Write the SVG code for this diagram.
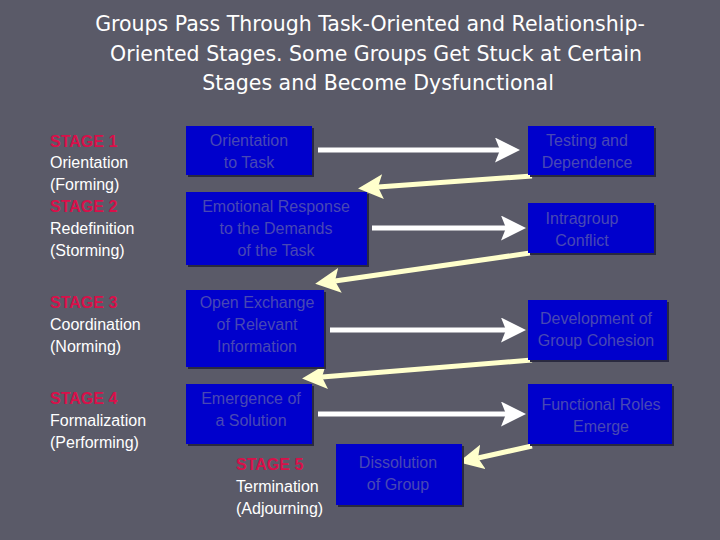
<svg xmlns="http://www.w3.org/2000/svg" width="720" height="540" viewBox="0 0 720 540">
<style>
.t{font-family:"Liberation Sans",Arial,sans-serif;font-size:16px}
.b rect.s{fill:#2a2a40}
.b rect.f{fill:#0000cc}
.b text{fill:#4848b4;text-anchor:middle}
.st{fill:#d8104a;font-weight:bold}
.w{fill:#ffffff}
.wa{stroke:#ffffff;stroke-width:5;fill:none}
.ya{stroke:#ffffcc;stroke-width:5;fill:none}
</style>
<defs>
<marker id="mw" markerWidth="5" markerHeight="5" refX="1" refY="2.5" orient="auto" markerUnits="strokeWidth"><path d="M0,0L5,2.5L0,5L1,2.5z" fill="#ffffff"/></marker>
<marker id="my" markerWidth="5" markerHeight="5" refX="1" refY="2.5" orient="auto" markerUnits="strokeWidth"><path d="M0,0L5,2.5L0,5L1,2.5z" fill="#ffffcc"/></marker>
</defs>
<rect width="720" height="540" fill="#5a5a68"/>
<g id="title" fill="#ffffff" text-anchor="middle" style="font-family:'DejaVu Sans',Verdana,sans-serif;font-size:20.5px">
<text x="370" y="31">Groups Pass Through Task-Oriented and Relationship-</text>
<text x="376" y="61">Oriented Stages.  Some Groups Get Stuck at Certain</text>
<text x="378" y="90">Stages and Become Dysfunctional</text>
</g>
<g id="stages" class="t">
<text x="50" y="147" class="st">STAGE 1</text>
<text x="50" y="168" class="w">Orientation</text>
<text x="50" y="190" class="w">(Forming)</text>
<text x="50" y="212" class="st">STAGE 2</text>
<text x="50" y="234" class="w">Redefinition</text>
<text x="50" y="256" class="w">(Storming)</text>
<text x="50" y="308" class="st">STAGE 3</text>
<text x="50" y="330" class="w">Coordination</text>
<text x="50" y="352" class="w">(Norming)</text>
<text x="50" y="404" class="st">STAGE 4</text>
<text x="50" y="426" class="w">Formalization</text>
<text x="50" y="448" class="w">(Performing)</text>
<text x="236" y="470" class="st">STAGE 5</text>
<text x="236" y="492" class="w">Termination</text>
<text x="236" y="514" class="w">(Adjourning)</text>
</g>
<g id="connectors">
<line x1="318" y1="150" x2="500" y2="150" class="wa" marker-end="url(#mw)"/>
<line x1="372" y1="228" x2="506" y2="228" class="wa" marker-end="url(#mw)"/>
<line x1="330" y1="330" x2="506" y2="330" class="wa" marker-end="url(#mw)"/>
<line x1="318" y1="414" x2="506" y2="414" class="wa" marker-end="url(#mw)"/>
<line x1="532" y1="176" x2="378" y2="187" class="ya" marker-end="url(#my)"/>
<line x1="530" y1="253" x2="335" y2="281" class="ya" marker-end="url(#my)"/>
<line x1="532" y1="360" x2="322" y2="377" class="ya" marker-end="url(#my)"/>
<line x1="532" y1="446" x2="478" y2="458" class="ya" marker-end="url(#my)"/>
</g>
<g id="n1" class="b t"><rect class="s" x="188" y="128" width="126" height="49"/><rect class="f" x="186" y="126" width="126" height="49"/><text x="249" y="146">Orientation</text><text x="249" y="168">to Task</text></g>
<g id="n2" class="b t"><rect class="s" x="530" y="128" width="126" height="49"/><rect class="f" x="528" y="126" width="126" height="49"/><text x="587" y="146">Testing and</text><text x="587" y="168">Dependence</text></g>
<g id="n3" class="b t"><rect class="s" x="188" y="194" width="181" height="73"/><rect class="f" x="186" y="192" width="181" height="73"/><text x="276" y="212">Emotional Response</text><text x="276" y="234">to the Demands</text><text x="276" y="256">of the Task</text></g>
<g id="n4" class="b t"><rect class="s" x="530" y="205" width="126" height="50"/><rect class="f" x="528" y="203" width="126" height="50"/><text x="582" y="224">Intragroup</text><text x="582" y="246">Conflict</text></g>
<g id="n5" class="b t"><rect class="s" x="188" y="292" width="138" height="77"/><rect class="f" x="186" y="290" width="138" height="77"/><text x="257" y="308">Open Exchange</text><text x="257" y="330">of Relevant</text><text x="257" y="352">Information</text></g>
<g id="n6" class="b t"><rect class="s" x="530" y="302" width="139" height="60"/><rect class="f" x="528" y="300" width="139" height="60"/><text x="596" y="324">Development of</text><text x="596" y="346">Group Cohesion</text></g>
<g id="n7" class="b t"><rect class="s" x="188" y="386" width="126" height="60"/><rect class="f" x="186" y="384" width="126" height="60"/><text x="251" y="404">Emergence of</text><text x="251" y="426">a Solution</text></g>
<g id="n8" class="b t"><rect class="s" x="530" y="386" width="144" height="60"/><rect class="f" x="528" y="384" width="144" height="60"/><text x="601" y="410">Functional Roles</text><text x="601" y="432">Emerge</text></g>
<g id="n9" class="b t"><rect class="s" x="338" y="446" width="126" height="61"/><rect class="f" x="336" y="444" width="126" height="61"/><text x="398" y="468">Dissolution</text><text x="398" y="490">of Group</text></g>
</svg>
